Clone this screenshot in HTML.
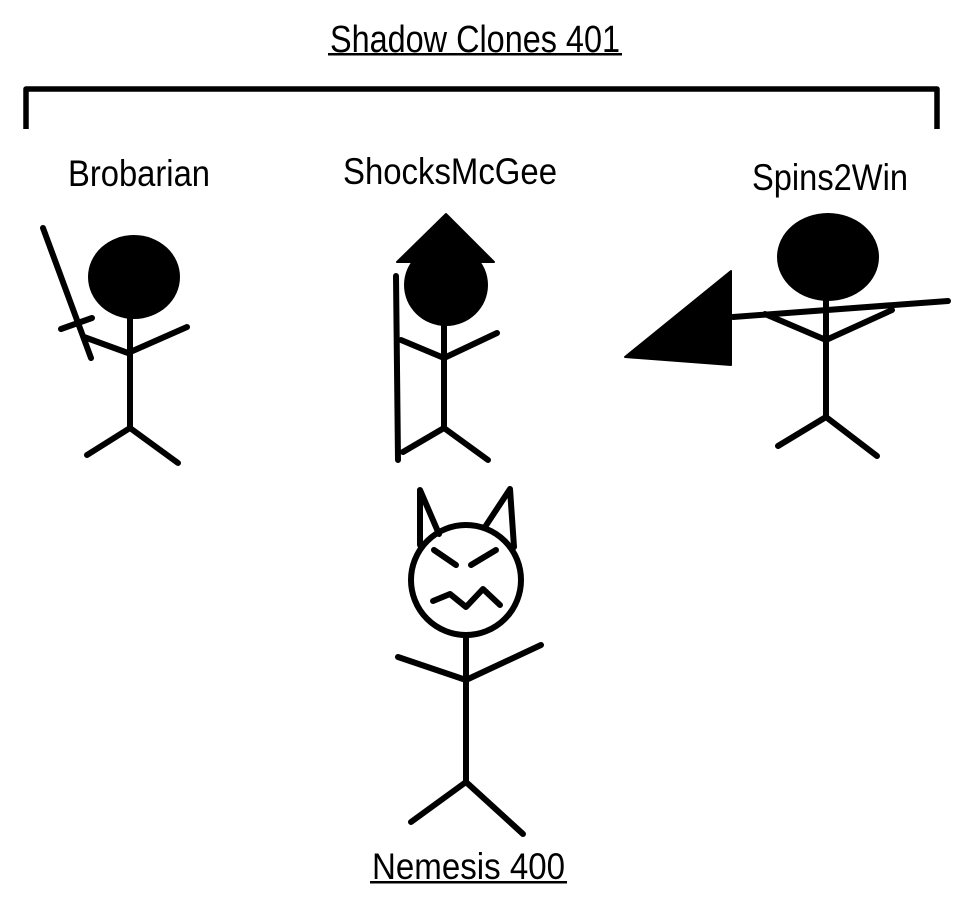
<!DOCTYPE html>
<html><head><meta charset="utf-8"><style>
html,body{margin:0;padding:0;background:#fff;}
svg{display:block;}
text{font-family:"Liberation Sans",Arial,sans-serif;fill:#000;}
</style></head><body>
<svg width="975" height="910" viewBox="0 0 975 910" xmlns="http://www.w3.org/2000/svg">
<g stroke="#000" stroke-linecap="round" stroke-linejoin="round" fill="none">
<path d="M26 129 V89 H937 V129" stroke-width="5.5" stroke-linecap="butt"/>
<!-- Brobarian -->
<ellipse cx="134" cy="277" rx="46" ry="42" fill="#000" stroke="none"/>
<path d="M130 317 V428 M84 337 L128 353 L187 327 M87 455 L130 428 L178 463" stroke-width="6"/>
<path d="M43 228 L91 358 M61 329 L92 318" stroke-width="6"/>
<!-- ShocksMcGee -->
<ellipse cx="446" cy="285" rx="42" ry="41" fill="#000" stroke="none"/>
<polygon points="446,214 397,262 494,262" fill="#000" stroke="#000" stroke-width="2"/>
<path d="M444 325 V428 M401 340 L444 358 L497 333 M403 452 L444 428 L488 460" stroke-width="6"/>
<path d="M396 276 L398 460" stroke-width="6"/>
<!-- Spins2Win -->
<ellipse cx="828" cy="257" rx="51" ry="44" fill="#000" stroke="none"/>
<path d="M826 300 V417 M765 314 L826 340 L892 310 M778 446 L826 417 L877 456" stroke-width="6"/>
<path d="M733 317 L948 301" stroke-width="6"/>
<polygon points="625,357 731,271 731,365" fill="#000" stroke="#000" stroke-width="2"/>
<!-- Nemesis -->
<circle cx="466" cy="580" r="55" stroke-width="6" fill="#fff"/>
<path d="M439 534 L420 490 L420 545 M485 527 L510 489 L514 547" stroke-width="6"/>
<path d="M434 550 L456 565 M471 565 L496 550" stroke-width="6"/>
<path d="M433 601 L450 594 L466 607 L483 589 L500 605" stroke-width="6"/>
<path d="M466 636 V782 M398 657 L466 680 L541 645 M411 822 L466 782 L523 834" stroke-width="6"/>
</g>
<text x="330" y="52" font-size="38" textLength="290" lengthAdjust="spacingAndGlyphs">Shadow Clones 401</text>
<rect x="328" y="53" width="294" height="2.5" fill="#000"/>
<text x="68" y="186" font-size="37" textLength="142" lengthAdjust="spacingAndGlyphs">Brobarian</text>
<text x="343" y="184" font-size="37" textLength="214" lengthAdjust="spacingAndGlyphs">ShocksMcGee</text>
<text x="752" y="190" font-size="37" textLength="156" lengthAdjust="spacingAndGlyphs">Spins2Win</text>
<text x="372" y="879" font-size="37" textLength="193" lengthAdjust="spacingAndGlyphs">Nemesis 400</text>
<rect x="370" y="881" width="197" height="2.5" fill="#000"/>
</svg>
</body></html>
